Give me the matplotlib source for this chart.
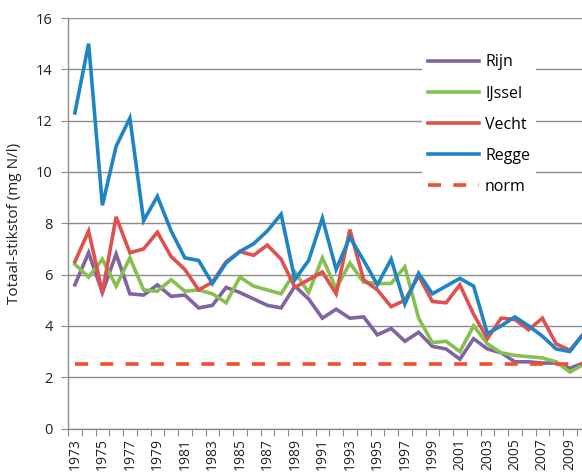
import matplotlib
matplotlib.use("Agg")
import matplotlib.pyplot as plt
import numpy as np

years = list(range(1973, 2011))
rijn = [5.6, 6.85, 5.3, 6.8, 5.25, 5.2, 5.6, 5.15, 5.2, 4.7, 4.8, 5.5, 5.3, 5.05, 4.8, 4.7,
        5.55, 5.05, 4.3, 4.65, 4.3, 4.35, 3.65, 3.9, 3.4, 3.75, 3.2, 3.1, 2.7, 3.5, 3.1,
        2.95, 2.6, 2.6, 2.55, 2.55, 2.35, 2.55]
ijssel = [6.4, 5.9, 6.6, 5.55, 6.65, 5.4, 5.35, 5.8, 5.35, 5.4, 5.25, 4.9, 5.9, 5.55, 5.4,
          5.25, 6.1, 5.3, 6.65, 5.45, 6.45, 5.7, 5.65, 5.65, 6.3, 4.3, 3.35, 3.4, 3.0, 4.0,
          3.3, 2.95, 2.85, 2.8, 2.75, 2.6, 2.2, 2.5]
vecht = [6.5, 7.7, 5.3, 8.25, 6.85, 7.0, 7.65, 6.7, 6.2, 5.4, 5.7, 6.5, 6.9, 6.75, 7.15, 6.6,
         5.5, 5.8, 6.1, 5.25, 7.75, 5.8, 5.4, 4.75, 5.0, 5.95, 4.95, 4.9, 5.6, 4.45, 3.5,
         4.3, 4.25, 3.85, 4.3, 3.3, 3.05, 3.7]
regge = [12.3, 15.0, 8.7, 11.0, 12.1, 8.1, 9.05, 7.7, 6.65, 6.55, 5.65, 6.45, 6.9, 7.2, 7.7,
         8.35, 5.8, 6.55, 8.2, 6.2, 7.45, 6.55, 5.6, 6.6, 4.85, 6.05, 5.25, 5.55, 5.85, 5.55,
         3.7, 4.0, 4.35, 4.0, 3.6, 3.1, 3.0, 3.7]
norm = [2.5] * len(years)

series_names = ["Rijn", "IJssel", "Vecht", "Regge"]
series_values = [rijn, ijssel, vecht, regge]
colors = ["#8064A2", "#86C04F", "#E0504E", "#1F84C4"]

plt.rcParams['font.family'] = ['Open Sans', 'DejaVu Sans']

fig = plt.figure(figsize=(5.82, 4.76), dpi=100)
ax = fig.add_axes([68/582, (476-428.5)/476, (590.5-68)/582, (428.5-18)/476])

x = np.arange(len(years))
for name, vals, c in zip(series_names, series_values, colors):
    ax.plot(x, vals, color=c, lw=2.6, label=name, solid_joinstyle='miter', zorder=3)
ax.plot(x, norm, color="#F04E2E", lw=2.6, ls=(0, (3.6, 3.4)), label="norm", zorder=3)

ax.set_xlim(-0.5, len(years) - 0.5)
ax.set_ylim(0, 16)
ax.set_yticks(np.arange(0, 17, 2))
ax.yaxis.grid(True, color="#8C8C8C", lw=1)
ax.set_axisbelow(True)

ax.set_xticks(np.arange(-0.5, len(years), 1), minor=False)
ax.set_xticklabels([])
ax.set_xticks(x[::2], minor=True)
ax.set_xticklabels([str(y) for y in years[::2]], minor=True, rotation=90, fontsize=10, color="#222222")
ax.tick_params(axis='x', which='major', length=5, color="#8C8C8C", direction='out')
ax.tick_params(axis='x', which='minor', length=0, pad=7)
ax.tick_params(axis='y', length=5, color="#8C8C8C", labelsize=10.5, labelcolor="#222222", pad=6)

for s in ["top", "right"]:
    ax.spines[s].set_visible(False)
for s in ["left", "bottom"]:
    ax.spines[s].set_color("#8C8C8C")
    ax.spines[s].set_linewidth(1)

ax.set_ylabel("Totaal-stikstof (mg N/l)", fontsize=11, color="#222222", labelpad=10)

leg = ax.legend(loc="upper left", bbox_to_anchor=(414/582, 1 - 40/476), bbox_transform=fig.transFigure,
                frameon=True, fancybox=False, edgecolor="none", facecolor="white", framealpha=1,
                fontsize=11.5, handlelength=3.2, handletextpad=0.35, labelspacing=0.95,
                borderpad=0.4)

fig.savefig("out.png", dpi=100)
